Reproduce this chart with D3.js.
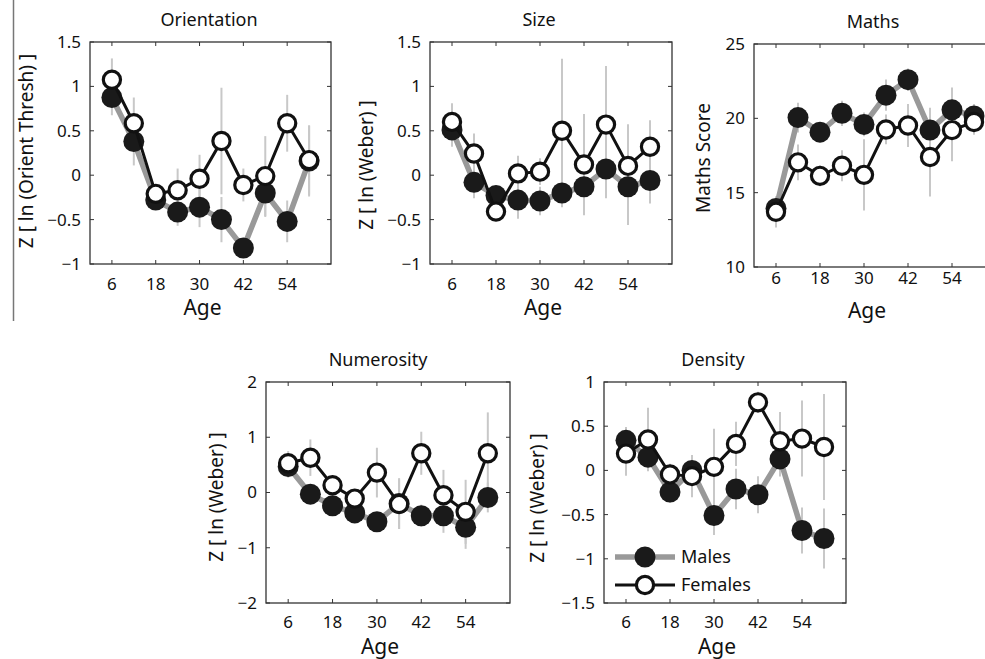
<!DOCTYPE html>
<html lang="en">
<head>
<meta charset="UTF-8">
<title>Age and sex panels</title>
<script src="https://d3js.org/d3.v7.min.js"></script>
<style>
    body { margin: 0; background: #fff; }
    svg { display: block; }
    text { font-family: "Noto Sans", "Open Sans", sans-serif; fill: #111; }
    .box { fill: none; stroke: #333; stroke-width: 1.3; }
    .tick { stroke: #333; stroke-width: 1; }
    .err { stroke: #c8c8c8; stroke-width: 2; }
    .lineM { fill: none; stroke: #999; stroke-width: 5.5; }
    .lineF { fill: none; stroke: #111; stroke-width: 3; }
    .dotM { fill: #1a1a1a; }
    .dotF { fill: #fff; stroke: #111; stroke-width: 3.2; }
</style>
</head>
<body>
<svg width="985" height="659"></svg>
<script>
// ages (months) and x ticks shared by all panels
const ages = [6, 12, 18, 24, 30, 36, 42, 48, 54, 60];
const ageTicks = [6, 18, 30, 42, 54];

// Orientation
const orientMales   = [0.875, 0.38, -0.28, -0.415, -0.36, -0.50, -0.82, -0.20, -0.52, 0.16];
const orientFemales = [1.075, 0.585, -0.21, -0.17, -0.04, 0.385, -0.11, -0.01, 0.585, 0.17];
const orientErrM    = [0.20, 0.27, 0.10, 0.155, 0.225, 0.255, 0.10, 0.27, 0.235, 0.40];
const orientErrF    = [0.24, 0.29, 0.10, 0.245, 0.27, 0.60, 0.185, 0.45, 0.32, 0.39];
const orientTicks   = [-1, -0.5, 0, 0.5, 1, 1.5];

// Size
const sizeMales   = [0.51, -0.08, -0.23, -0.28, -0.29, -0.20, -0.13, 0.07, -0.13, -0.06];
const sizeFemales = [0.60, 0.245, -0.41, 0.02, 0.04, 0.50, 0.12, 0.57, 0.105, 0.32];
const sizeErrM    = [0.19, 0.18, 0.08, 0.21, 0.16, 0.16, 0.31, 0.33, 0.43, 0.26];
const sizeErrF    = [0.21, 0.225, 0.08, 0.20, 0.15, 0.81, 0.57, 0.66, 0.47, 0.30];
const sizeTicks   = [-1, -0.5, 0, 0.5, 1, 1.5];

// Maths
const mathsMales   = [13.94, 20.05, 19.07, 20.34, 19.59, 21.56, 22.6, 19.21, 20.57, 20.16];
const mathsFemales = [13.71, 17.04, 16.13, 16.81, 16.2, 19.25, 19.52, 17.4, 19.21, 19.75];
const mathsErrM    = [0.5, 1.0, 0.6, 0.85, 0.8, 1.05, 0.75, 1.5, 1.5, 0.8];
const mathsErrF    = [1.05, 1.2, 0.7, 1.05, 2.4, 1.0, 1.45, 2.65, 2.1, 0.85];
const mathsTicks   = [10, 15, 20, 25];

// Numerosity
const numMales   = [0.47, -0.03, -0.24, -0.37, -0.53, -0.20, -0.42, -0.42, -0.63, -0.09];
const numFemales = [0.53, 0.63, 0.13, -0.11, 0.36, -0.21, 0.71, -0.05, -0.35, 0.71];
const numErrM    = [0.20, 0.15, 0.15, 0.15, 0.15, 0.46, 0.20, 0.31, 0.39, 0.27];
const numErrF    = [0.22, 0.33, 0.15, 0.15, 0.45, 0.45, 0.39, 0.46, 0.58, 0.74];
const numTicks   = [-2, -1, 0, 1, 2];

// Density
const densMales   = [0.34, 0.15, -0.245, 0.0, -0.51, -0.21, -0.275, 0.13, -0.68, -0.77];
const densFemales = [0.19, 0.35, -0.045, -0.065, 0.04, 0.30, 0.77, 0.33, 0.36, 0.265];
const densErrM    = [0.15, 0.15, 0.12, 0.15, 0.22, 0.23, 0.21, 0.20, 0.26, 0.34];
const densErrF    = [0.25, 0.36, 0.12, 0.24, 0.43, 0.25, 0.12, 0.33, 0.43, 0.60];
const densTicks   = [-1.5, -1, -0.5, 0, 0.5, 1];

const legendLabels = ["Males", "Females"];

const svg = d3.select("svg");
const fmt = v => String(v).replace("-", "\u2212");

// left rule from the page layout
svg.append("line").attr("x1", 13.5).attr("x2", 13.5).attr("y1", 0).attr("y2", 321)
    .attr("stroke", "#777").attr("stroke-width", 1.5);

const panels = [
    {title: "Orientation", ylab: "Z [ ln (Orient Thresh) ]", m: orientMales, f: orientFemales, em: orientErrM, ef: orientErrF,
     ticks: orientTicks, x0: 90, x1: 331, y0: 42, y1: 264, tx: 209, ty: 20, lx: 26, ly: 151, tickGap: 20},
    {title: "Size", ylab: "Z [ ln (Weber) ]", m: sizeMales, f: sizeFemales, em: sizeErrM, ef: sizeErrF,
     ticks: sizeTicks, x0: 430, x1: 672, y0: 42, y1: 264, tx: 539, ty: 20, lx: 366, ly: 165, tickGap: 20},
    {title: "Maths", ylab: "Maths Score", m: mathsMales, f: mathsFemales, em: mathsErrM, ef: mathsErrF,
     ticks: mathsTicks, x0: 754, x1: 996, y0: 44, y1: 267, tx: 873, ty: 22, lx: 703, ly: 158, tickGap: 11},
    {title: "Numerosity", ylab: "Z [ ln (Weber) ]", m: numMales, f: numFemales, em: numErrM, ef: numErrF,
     ticks: numTicks, x0: 266, x1: 510, y0: 382, y1: 603, tx: 378, ty: 360, lx: 216, ly: 497, tickGap: 19},
    {title: "Density", ylab: "Z [ ln (Weber) ]", m: densMales, f: densFemales, em: densErrM, ef: densErrF,
     ticks: densTicks, x0: 604, x1: 846, y0: 382, y1: 603, tx: 713, ty: 360, lx: 537, ly: 498, tickGap: 19, legend: true}
];

panels.forEach(p => {
    const x = d3.scaleLinear().domain([0, 66]).range([p.x0, p.x1]);
    const y = d3.scaleLinear().domain(d3.extent(p.ticks)).range([p.y1, p.y0]);
    const g = svg.append("g");

    // ticks inward on all four sides
    ageTicks.forEach(t => {
        g.append("line").attr("class", "tick").attr("x1", x(t)).attr("x2", x(t)).attr("y1", p.y1).attr("y2", p.y1 - 4);
        g.append("line").attr("class", "tick").attr("x1", x(t)).attr("x2", x(t)).attr("y1", p.y0).attr("y2", p.y0 + 4);
        g.append("text").attr("x", x(t)).attr("y", p.y1 + p.tickGap).attr("dy", "0.35em")
            .attr("text-anchor", "middle").attr("font-size", 17).text(t);
    });
    p.ticks.forEach(t => {
        g.append("line").attr("class", "tick").attr("x1", p.x0).attr("x2", p.x0 + 4).attr("y1", y(t)).attr("y2", y(t));
        g.append("line").attr("class", "tick").attr("x1", p.x1).attr("x2", p.x1 - 4).attr("y1", y(t)).attr("y2", y(t));
        g.append("text").attr("x", p.x0 - 9).attr("y", y(t)).attr("dy", "0.35em")
            .attr("text-anchor", "end").attr("font-size", 17).text(fmt(t));
    });

    // error bars
    const errs = [];
    ages.forEach((a, i) => {
        errs.push({a: a, lo: p.m[i] - p.em[i], hi: p.m[i] + p.em[i]});
        errs.push({a: a, lo: p.f[i] - p.ef[i], hi: p.f[i] + p.ef[i]});
    });
    g.selectAll(".err").data(errs).enter().append("line").attr("class", "err")
        .attr("x1", d => x(d.a)).attr("x2", d => x(d.a))
        .attr("y1", d => y(Math.min(d.hi, d3.max(p.ticks))))
        .attr("y2", d => y(Math.max(d.lo, d3.min(p.ticks))));

    const line = d3.line().x((d, i) => x(ages[i])).y(d => y(d));
    g.append("path").datum(p.m).attr("class", "lineM").attr("d", line);
    g.selectAll(".dotM").data(p.m).enter().append("circle").attr("class", "dotM")
        .attr("cx", (d, i) => x(ages[i])).attr("cy", d => y(d)).attr("r", 10.5);
    g.append("path").datum(p.f).attr("class", "lineF").attr("d", line);
    g.selectAll(".dotF").data(p.f).enter().append("circle").attr("class", "dotF")
        .attr("cx", (d, i) => x(ages[i])).attr("cy", d => y(d)).attr("r", 8.6);

    g.append("rect").attr("class", "box").attr("x", p.x0).attr("y", p.y0)
        .attr("width", p.x1 - p.x0).attr("height", p.y1 - p.y0);

    g.append("text").attr("x", p.tx).attr("y", p.ty).attr("dy", "0.35em")
        .attr("text-anchor", "middle").attr("font-size", 18).text(p.title);
    g.append("text").attr("x", (p.x0 + p.x1) / 2 - 8).attr("y", p.y1 + 44).attr("dy", "0.35em")
        .attr("text-anchor", "middle").attr("font-size", 21).text("Age");
    g.append("text").attr("transform", `translate(${p.lx},${p.ly}) rotate(-90)`).attr("dy", "0.35em")
        .attr("text-anchor", "middle").attr("font-size", 19).text(p.ylab);

    if (p.legend) {
        const lg = g.append("g");
        const rows = [557, 585];
        lg.append("line").attr("class", "lineM").attr("x1", 615).attr("x2", 675).attr("y1", rows[0]).attr("y2", rows[0]);
        lg.append("circle").attr("class", "dotM").attr("cx", 645).attr("cy", rows[0]).attr("r", 10.5);
        lg.append("line").attr("class", "lineF").attr("x1", 615).attr("x2", 675).attr("y1", rows[1]).attr("y2", rows[1]);
        lg.append("circle").attr("class", "dotF").attr("cx", 645).attr("cy", rows[1]).attr("r", 8.6);
        legendLabels.forEach((l, i) => {
            lg.append("text").attr("x", 681).attr("y", rows[i]).attr("dy", "0.35em")
                .attr("font-size", 18).text(l);
        });
    }
});
</script>
</body>
</html>
